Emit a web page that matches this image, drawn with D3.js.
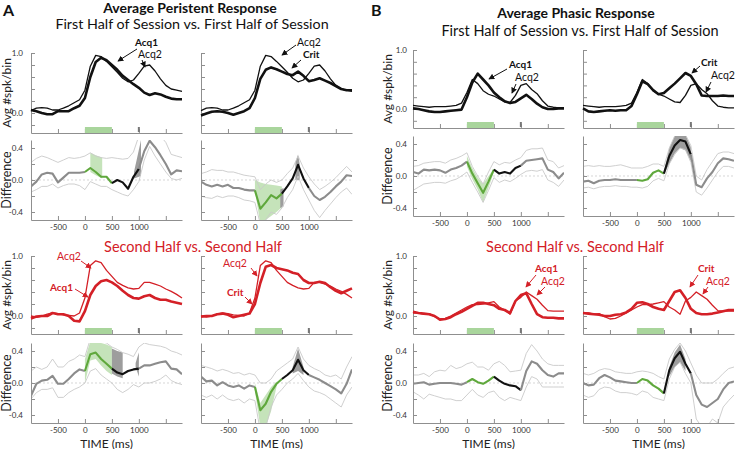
<!DOCTYPE html>
<html><head><meta charset="utf-8">
<script src="https://cdn.jsdelivr.net/npm/d3@7"></script>
<style>body{margin:0;background:#fff} svg{display:block}</style>
</head><body><svg id="c" width="738" height="449"></svg>
<script>
const FONT = 'Lato, "Liberation Sans", sans-serif';
// ---------- DATA ----------
const times = [-1000,-900,-800,-700,-600,-500,-400,-300,-200,-100,0,100,200,300,400,500,600,700,800,900,1000,1100,1200,1300,1400,1500,1600,1700,1800];
const xTicks = [-500,0,500,1000,1500];
const xTickLabels = ["-500","0","500","1000",""];
const topTicks = [-0.2,0,0.2,0.4,0.6,0.8,1.0];
const diffTicks = [-0.4,-0.2,0,0.2,0.4];
const stimWindow = [0,500];
const rewardTime = 1000;

// A: Average Persistent Response, first half
const perFirstAcq1 = [0.05,0.03,0.0,-0.02,-0.02,0.03,0.03,0.03,0.08,0.12,0.25,0.6,0.85,0.92,0.88,0.8,0.72,0.62,0.55,0.48,0.42,0.34,0.3,0.33,0.31,0.27,0.24,0.23,0.23];
const perFirstAcq2 = [0.04,0.08,0.09,0.08,0.05,0.05,0.08,0.12,0.17,0.22,0.38,0.78,0.96,0.94,0.86,0.77,0.68,0.58,0.52,0.55,0.66,0.78,0.8,0.7,0.57,0.46,0.4,0.38,0.36];
const perFirstCrit = [-0.04,-0.01,0.02,0.03,0.02,0.0,-0.03,0.0,0.03,0.08,0.25,0.57,0.72,0.76,0.73,0.69,0.65,0.63,0.69,0.62,0.53,0.55,0.58,0.54,0.5,0.45,0.4,0.38,0.38];
const perFirstDiffL = [-0.08,-0.02,0.07,0.09,0.08,-0.03,0.03,0.09,0.09,0.09,0.1,0.15,0.1,0.04,0.04,-0.04,0.0,-0.03,-0.11,0.04,0.14,0.36,0.49,0.41,0.31,0.2,0.07,0.12,0.11];
const perFirstDiffLHi = [0.22,0.27,0.3,0.28,0.25,0.22,0.25,0.28,0.27,0.28,0.3,0.34,0.3,0.28,0.27,0.28,0.27,0.26,0.27,0.35,0.55,0.65,0.65,0.6,0.55,0.47,0.32,0.3,0.28];
const perFirstDiffLLo = [-0.15,-0.12,-0.08,-0.08,-0.05,-0.1,-0.07,-0.05,-0.05,-0.07,-0.12,-0.02,-0.05,-0.08,-0.08,-0.12,-0.15,-0.18,-0.2,-0.12,-0.02,0.25,0.42,0.3,0.2,0.1,0.02,0.0,0.02];
const perFirstDiffR = [-0.02,-0.06,-0.08,-0.06,-0.08,-0.06,-0.1,-0.1,-0.12,-0.13,-0.13,-0.36,-0.28,-0.19,-0.23,-0.17,-0.08,0.02,0.19,0.02,-0.1,-0.2,-0.25,-0.21,-0.15,-0.08,-0.02,0.06,0.05];
const perFirstDiffRHi = [0.08,0.1,0.13,0.12,0.12,0.1,0.1,0.08,0.06,0.05,0.04,-0.12,-0.05,0.0,-0.03,0.0,0.08,0.15,0.3,0.15,0.04,-0.05,-0.12,-0.08,-0.03,0.03,0.1,0.17,0.1];
const perFirstDiffRLo = [-0.2,-0.22,-0.23,-0.2,-0.22,-0.2,-0.2,-0.22,-0.25,-0.26,-0.28,-0.55,-0.5,-0.4,-0.43,-0.35,-0.22,-0.12,0.05,-0.12,-0.25,-0.38,-0.47,-0.38,-0.3,-0.22,-0.15,-0.1,-0.18];
const perFirstShadeLGreen = [[[100,0.1,0.34],[200,0.06,0.31],[320,0.02,0.28]]];
const perFirstShadeLGray = [[[910,0.02,0.1],[1040,0.05,0.5]]];
const perFirstShadeRGreen = [[[0,-0.13,0.0],[100,-0.55,-0.03],[200,-0.5,-0.05],[300,-0.45,-0.06],[400,-0.4,-0.07],[500,-0.34,-0.08]]];
const perFirstShadeRGray = [[[470,-0.35,-0.12],[530,-0.33,-0.1]],[[750,0.0,0.22],[800,0.0,0.32],[830,0.0,0.2]]];

// A: second half
const perSecondAcq1 = [-0.04,-0.01,0.0,0.0,0.05,0.03,0.03,0.0,-0.08,-0.09,0.08,0.35,0.5,0.58,0.6,0.56,0.5,0.42,0.35,0.3,0.29,0.33,0.35,0.3,0.27,0.27,0.24,0.22,0.2];
const perSecondAcq2 = [0.0,-0.02,0.0,0.03,0.05,0.04,0.02,0.01,0.0,0.05,0.3,0.84,0.92,0.89,0.76,0.66,0.56,0.51,0.47,0.45,0.46,0.56,0.56,0.53,0.5,0.45,0.41,0.36,0.3];
const perSecondCrit = [-0.01,0.0,0.0,0.03,0.04,0.02,-0.02,0.0,0.02,0.04,0.2,0.55,0.82,0.85,0.8,0.78,0.76,0.72,0.7,0.6,0.55,0.55,0.57,0.55,0.48,0.42,0.38,0.42,0.46];
const perSecondDiffL = [-0.16,-0.01,0.03,0.04,0.09,-0.01,-0.01,0.05,0.12,0.17,0.15,0.36,0.38,0.3,0.24,0.18,0.13,0.11,0.15,0.17,0.18,0.22,0.22,0.24,0.26,0.27,0.18,0.17,0.11];
const perSecondDiffLHi = [0.15,0.2,0.17,0.2,0.3,0.2,0.2,0.27,0.3,0.35,0.33,0.55,0.55,0.52,0.5,0.45,0.42,0.38,0.36,0.33,0.45,0.5,0.48,0.47,0.46,0.44,0.4,0.38,0.35];
const perSecondDiffLLo = [-0.2,-0.12,-0.08,-0.08,-0.06,-0.18,-0.18,-0.12,-0.08,-0.05,0.0,0.15,0.18,0.1,0.05,0.0,-0.08,-0.12,-0.08,-0.02,-0.05,0.0,0.0,0.02,0.05,0.1,0.03,0.0,-0.02];
const perSecondDiffR = [0.08,0.02,0.03,-0.03,0.01,-0.03,-0.05,-0.03,-0.07,-0.03,-0.05,-0.34,-0.26,-0.11,-0.01,0.05,0.1,0.16,0.29,0.16,0.1,0.07,0.04,0.0,-0.04,-0.08,-0.13,-0.01,0.17];
const perSecondDiffRHi = [0.22,0.2,0.18,0.15,0.17,0.15,0.12,0.13,0.1,0.12,0.1,0.0,0.0,0.05,0.15,0.2,0.25,0.3,0.45,0.3,0.22,0.18,0.15,0.1,0.08,0.1,0.05,0.2,0.33];
const perSecondDiffRLo = [-0.15,-0.18,-0.15,-0.2,-0.15,-0.2,-0.22,-0.2,-0.25,-0.2,-0.22,-0.6,-0.55,-0.3,-0.15,-0.08,0.0,0.05,0.12,0.03,-0.05,-0.1,-0.12,-0.15,-0.2,-0.25,-0.3,-0.15,-0.05];
const perSecondShadeLGreen = [[[0,0.0,0.3],[100,0.28,0.52],[200,0.3,0.55],[300,0.22,0.5],[400,0.15,0.48],[500,0.1,0.45]]];
const perSecondShadeLGray = [[[500,0.12,0.43],[600,0.08,0.4],[700,0.06,0.38]],[[940,0.2,0.25],[1000,0.08,0.38]]];
const perSecondShadeRGreen = [[[0,-0.1,0.0],[100,-0.55,-0.25],[200,-0.55,-0.15],[300,-0.35,-0.05],[400,-0.05,0.02]]];
const perSecondShadeRGray = [[[700,0.12,0.2],[800,0.15,0.43],[900,0.1,0.2]]];

// B: Average Phasic Response, first half
const phaFirstAcq1 = [0.01,0.0,-0.02,-0.04,-0.05,-0.05,-0.04,-0.03,-0.02,-0.01,0.2,0.45,0.6,0.5,0.4,0.28,0.2,0.13,0.1,0.12,0.18,0.24,0.17,0.09,0.03,0.0,0.0,0.01,0.01];
const phaFirstAcq2 = [0.06,0.05,0.04,0.03,0.04,0.04,0.04,0.05,0.06,0.1,0.28,0.5,0.43,0.31,0.25,0.22,0.17,0.12,0.11,0.23,0.4,0.43,0.33,0.26,0.14,0.05,0.03,0.02,0.02];
const phaFirstCrit = [0.01,-0.04,-0.05,-0.04,-0.03,-0.02,-0.03,-0.02,-0.02,0.05,0.25,0.47,0.42,0.32,0.25,0.27,0.35,0.43,0.52,0.61,0.56,0.42,0.23,0.22,0.22,0.22,0.23,0.22,0.22];
const phaFirstDiffL = [0.05,0.03,0.08,0.07,0.08,0.07,0.04,0.08,0.1,0.13,0.18,0.03,-0.09,-0.21,-0.07,0.08,0.03,0.05,0.03,0.1,0.13,0.19,0.2,0.21,0.22,0.08,0.05,-0.03,0.04];
const phaFirstDiffLHi = [0.12,0.13,0.16,0.17,0.18,0.18,0.16,0.2,0.22,0.25,0.29,0.12,0.0,-0.1,0.05,0.18,0.14,0.17,0.16,0.2,0.23,0.32,0.34,0.34,0.35,0.2,0.18,0.1,0.13];
const phaFirstDiffLLo = [-0.18,-0.14,-0.1,-0.09,-0.08,-0.08,-0.09,-0.06,-0.04,0.0,0.05,-0.08,-0.2,-0.33,-0.18,-0.02,-0.08,-0.05,-0.07,-0.03,0.02,0.06,0.07,0.06,0.08,-0.05,-0.08,-0.13,-0.05];
const phaFirstDiffR = [-0.07,-0.06,-0.09,-0.06,-0.05,-0.05,-0.04,-0.05,-0.05,-0.05,-0.05,-0.06,-0.04,0.04,0.07,0.03,0.25,0.38,0.45,0.43,0.27,-0.11,-0.14,-0.03,0.05,0.16,0.22,0.21,0.19];
const phaFirstDiffRHi = [0.12,0.13,0.12,0.13,0.12,0.12,0.13,0.14,0.12,0.1,0.1,0.1,0.12,0.15,0.15,0.12,0.35,0.5,0.55,0.52,0.38,0.0,-0.05,0.08,0.18,0.28,0.3,0.3,0.28];
const phaFirstDiffRLo = [-0.15,-0.14,-0.16,-0.14,-0.13,-0.13,-0.12,-0.13,-0.13,-0.14,-0.14,-0.15,-0.13,-0.06,-0.03,-0.06,0.15,0.27,0.35,0.33,0.17,-0.2,-0.24,-0.15,-0.05,0.05,0.12,0.12,0.1];
const phaFirstShadeLGreen = [[[0,0.12,0.25],[100,-0.04,0.1],[200,-0.17,-0.02],[300,-0.33,-0.1],[400,-0.15,0.0],[500,0.05,0.09]]];
const phaFirstShadeRGray = [[[500,0.02,0.05],[600,0.15,0.35],[700,0.28,0.5],[800,0.35,0.55],[900,0.32,0.52],[1000,0.18,0.36]]];

// B: second half
const phaSecondAcq1 = [0.07,0.05,0.04,0.03,0.0,-0.06,-0.05,-0.02,0.03,0.07,0.12,0.17,0.22,0.22,0.2,0.18,0.12,0.1,0.05,0.25,0.35,0.38,0.2,0.03,-0.02,-0.03,-0.03,-0.04,-0.04];
const phaSecondAcq2 = [0.05,0.05,0.03,0.04,-0.01,-0.05,-0.04,0.0,0.05,0.1,0.15,0.19,0.19,0.2,0.22,0.24,0.15,0.1,0.03,0.25,0.31,0.4,0.34,0.28,0.18,0.09,0.08,0.08,0.08];
const phaSecondCrit = [0.05,0.04,0.03,0.02,0.0,0.0,0.02,0.03,0.06,0.12,0.22,0.23,0.2,0.15,0.12,0.1,0.25,0.4,0.43,0.3,0.12,0.05,0.03,0.03,0.04,0.06,0.08,0.1,0.1];
const phaSecondDiffL = [-0.01,0.0,0.01,-0.02,-0.01,0.0,0.0,0.0,-0.01,-0.02,0.01,0.05,0.01,-0.01,0.03,0.08,0.03,-0.01,-0.03,-0.04,-0.09,0.15,0.27,0.24,0.16,0.1,0.08,0.12,0.12];
const phaSecondDiffLHi = [0.1,0.1,0.12,0.08,0.14,0.16,0.15,0.22,0.18,0.2,0.24,0.26,0.2,0.2,0.16,0.24,0.27,0.22,0.14,0.15,0.16,0.37,0.48,0.4,0.3,0.24,0.22,0.22,0.22];
const phaSecondDiffLLo = [-0.11,-0.15,-0.2,-0.14,-0.16,-0.18,-0.2,-0.2,-0.22,-0.22,-0.15,-0.08,-0.15,-0.18,-0.12,-0.1,-0.18,-0.22,-0.18,-0.2,-0.22,-0.05,0.08,0.05,-0.05,-0.05,-0.05,-0.05,-0.05];
const phaSecondDiffR = [0.0,-0.03,-0.02,0.06,0.1,0.07,0.03,0.02,0.01,0.0,0.0,0.05,0.03,-0.03,-0.07,-0.13,0.16,0.31,0.39,0.24,0.12,-0.15,-0.27,-0.3,-0.25,-0.2,-0.08,0.0,0.02];
const phaSecondDiffRHi = [0.12,0.1,0.12,0.16,0.18,0.17,0.14,0.13,0.12,0.12,0.14,0.15,0.14,0.12,0.08,0.05,0.3,0.42,0.5,0.4,0.25,0.1,0.0,0.0,0.0,0.05,0.12,0.18,0.2];
const phaSecondDiffRLo = [-0.15,-0.18,-0.16,-0.08,-0.05,-0.06,-0.1,-0.12,-0.12,-0.13,-0.15,-0.1,-0.12,-0.18,-0.2,-0.22,0.05,0.2,0.26,0.12,0.0,-0.45,-0.55,-0.55,-0.45,-0.5,-0.3,-0.22,-0.15];
const phaSecondShadeRGray = [[[600,0.08,0.2],[700,0.2,0.38],[800,0.26,0.48],[900,0.15,0.3]]];

// ---------- STYLE / LAYOUT ----------
const RED = '#d42027', BLACK = '#111';
const GREEN_LINE = '#5fa83c', GREEN_FILL = '#bfe0b2', GRAY_FILL = '#9d9d9d';
const MEAN_GRAY = '#8c8c8c', CI_GRAY = '#c9c9c9', AXIS = '#8f8f8f';
const PW = 151;
const geoA1 = {topOne:53, topZero:113, topBottom:133, diffTop:140, diffBottom:220};
const geoB1 = {topOne:50, topZero:109, topBottom:128, diffTop:136, diffBottom:216};
const geoR2 = {topOne:256, topZero:316, topBottom:334, diffTop:343, diffBottom:423};

const svg = d3.select('#c');
const defs = svg.append('defs');
[[BLACK,'ahK'],[RED,'ahR']].forEach(([c,id])=>{
  defs.append('marker').attr('id',id).attr('viewBox','0 0 8 8').attr('refX',7).attr('refY',4)
    .attr('markerWidth',6).attr('markerHeight',6).attr('markerUnits','userSpaceOnUse').attr('orient','auto')
    .append('path').attr('d','M0,0L8,4L0,8z').attr('fill',c);
});

function styleAxis(g){
  g.attr('font-family',FONT).attr('font-size',8);
  g.select('.domain').attr('stroke',AXIS);
  g.selectAll('.tick line').attr('stroke',AXIS);
  g.selectAll('.tick text').attr('fill','#333');
}
const fmt = d => (d<0?'-':'') + Math.abs(d).toFixed(1);
let clipN = 0;

function drawPanel(p){
  const G = p.geo;
  const x = d3.scaleLinear().domain([times[0], times[times.length-1]]).range([p.x0, p.x0+PW]);
  // ----- response plot -----
  const yMin = (G.topBottom - G.topZero)/(G.topOne - G.topZero);
  const yT = d3.scaleLinear().domain([yMin,1]).range([G.topBottom, G.topOne]);
  const gt = svg.append('g');
  gt.append('g').attr('transform',`translate(${p.x0},0)`)
    .call(d3.axisLeft(yT).tickValues(topTicks).tickSizeInner(-4).tickSizeOuter(0).tickPadding(p.pad)
      .tickFormat(d => (p.labels && (d===0||d===1)) ? fmt(d) : ''))
    .call(styleAxis);
  gt.append('g').attr('transform',`translate(0,${G.topBottom})`)
    .call(d3.axisBottom(x).tickValues(xTicks).tickSizeInner(-4).tickSizeOuter(0).tickFormat(''))
    .call(styleAxis);
  gt.append('rect').attr('x',x(stimWindow[0])).attr('width',x(stimWindow[1])-x(stimWindow[0]))
    .attr('y',G.topBottom-6).attr('height',6).attr('fill','#a9d59c');
  gt.append('rect').attr('x',x(rewardTime)-1).attr('width',2).attr('y',G.topBottom-6).attr('height',5).attr('fill','#777');
  const line = d3.line().x((d,i)=>x(times[i])).y(d=>yT(d));
  gt.append('path').datum(p.thin).attr('d',line).attr('fill','none').attr('stroke',p.color).attr('stroke-width',1.3).attr('stroke-linejoin','round');
  gt.append('path').datum(p.thick).attr('d',line).attr('fill','none').attr('stroke',p.color).attr('stroke-width',2.6).attr('stroke-linejoin','round');
  // annotations
  const mk = p.color===RED ? 'url(#ahR)' : 'url(#ahK)';
  p.anno.forEach(a=>{
    gt.append('text').attr('x',a.x).attr('y',a.y).text(a.text).attr('fill',p.color)
      .attr('font-family',FONT).attr('font-size',a.bold?10:10.5).attr('font-weight',a.bold?700:400);
    gt.append('line').attr('x1',a.from[0]).attr('y1',a.from[1]).attr('x2',a.to[0]).attr('y2',a.to[1])
      .attr('stroke',p.color).attr('stroke-width',1).attr('marker-end',mk);
  });
  // ----- difference plot -----
  const yD = d3.scaleLinear().domain([-0.5,0.5]).range([G.diffBottom, G.diffTop]);
  const cid = 'clip'+(clipN++);
  defs.append('clipPath').attr('id',cid).append('rect').attr('x',p.x0).attr('y',G.diffTop).attr('width',PW).attr('height',G.diffBottom-G.diffTop);
  const gd = svg.append('g');
  const inner = gd.append('g').attr('clip-path',`url(#${cid})`);
  const area = d3.area().x(d=>x(d[0])).y0(d=>yD(d[1])).y1(d=>yD(d[2]));
  (p.green||[]).forEach(r=> inner.append('path').attr('d',area(r)).attr('fill',GREEN_FILL).attr('opacity',0.9));
  (p.gray||[]).forEach(r=> inner.append('path').attr('d',area(r)).attr('fill',GRAY_FILL));
  const dl = d3.line().x((d,i)=>x(times[i])).y(d=>yD(d));
  [p.hi,p.lo].forEach(arr=> inner.append('path').datum(arr).attr('d',dl).attr('fill','none').attr('stroke',CI_GRAY).attr('stroke-width',0.9));
  inner.append('line').attr('x1',p.x0).attr('x2',p.x0+PW).attr('y1',yD(0)).attr('y2',yD(0))
    .attr('stroke','#c4c4c4').attr('stroke-width',0.7).attr('stroke-dasharray','2,2');
  const segs = [[-1000,0,MEAN_GRAY],[0,500,GREEN_LINE],[500,1000,BLACK],[1000,1800,MEAN_GRAY]];
  segs.forEach(([a,b,c])=>{
    const pts = times.map((t,i)=>[t,p.mean[i]]).filter(d=>d[0]>=a && d[0]<=b);
    inner.append('path').datum(pts).attr('d',d3.line().x(d=>x(d[0])).y(d=>yD(d[1])))
      .attr('fill','none').attr('stroke',c).attr('stroke-width',2.1).attr('stroke-linejoin','round');
  });
  gd.append('g').attr('transform',`translate(${p.x0},0)`)
    .call(d3.axisLeft(yD).tickValues(diffTicks).tickSizeInner(-4).tickSizeOuter(0).tickPadding(p.pad)
      .tickFormat(d => (p.labels && (d===0||Math.abs(d)===0.4)) ? fmt(d) : ''))
    .call(styleAxis);
  gd.append('g').attr('transform',`translate(0,${G.diffBottom})`)
    .call(d3.axisBottom(x).tickValues(xTicks).tickSizeInner(-4).tickSizeOuter(0).tickPadding(4.5)
      .tickFormat((d,i)=>xTickLabels[i]))
    .call(styleAxis);
  if (p.time){
    gd.append('text').attr('x',x(400)).attr('y',447.5).attr('text-anchor','middle').text('TIME (ms)')
      .attr('font-family',FONT).attr('font-size',12).attr('fill','#222');
  }
  if (p.labels){
    const lx = p.x0 - p.lab;
    gt.append('text').attr('transform',`translate(${lx},${(G.topOne+G.topBottom)/2}) rotate(-90)`)
      .attr('text-anchor','middle').text('Avg #spk/bin').attr('font-family',FONT).attr('font-size',12).attr('fill','#222');
    gd.append('text').attr('transform',`translate(${lx},${(G.diffTop+G.diffBottom)/2}) rotate(-90)`)
      .attr('text-anchor','middle').text('Difference').attr('font-family',FONT).attr('font-size',12.5).attr('fill','#222');
  }
}

const panels = [
  {x0:31, geo:geoA1, pad:8, lab:20, labels:true, color:BLACK, thick:perFirstAcq1, thin:perFirstAcq2,
   mean:perFirstDiffL, hi:perFirstDiffLHi, lo:perFirstDiffLLo, green:perFirstShadeLGreen, gray:perFirstShadeLGray,
   anno:[{text:'Acq1',bold:true,x:135,y:46,from:[137,49],to:[118,61]},{text:'Acq2',bold:false,x:138,y:58,from:[142,60],to:[145,67]}]},
  {x0:201, geo:geoA1, pad:8, labels:false, color:BLACK, thick:perFirstCrit, thin:perFirstAcq2,
   mean:perFirstDiffR, hi:perFirstDiffRHi, lo:perFirstDiffRLo, green:perFirstShadeRGreen, gray:perFirstShadeRGray,
   anno:[{text:'Acq2',bold:false,x:297,y:46,from:[296,45],to:[282,55]},{text:'Crit',bold:true,x:303,y:58,from:[301,60],to:[292,68]}]},
  {x0:413, geo:geoB1, pad:6, lab:21, labels:true, color:BLACK, thick:phaFirstAcq1, thin:phaFirstAcq2,
   mean:phaFirstDiffL, hi:phaFirstDiffLHi, lo:phaFirstDiffLLo, green:phaFirstShadeLGreen, gray:[],
   anno:[{text:'Acq1',bold:true,x:509,y:68,from:[507,69],to:[489,79]},{text:'Acq2',bold:false,x:515,y:81,from:[516,84],to:[512,93]}]},
  {x0:583, geo:geoB1, pad:6, labels:false, color:BLACK, thick:phaFirstCrit, thin:phaFirstAcq2,
   mean:phaFirstDiffR, hi:phaFirstDiffRHi, lo:phaFirstDiffRLo, green:[], gray:phaFirstShadeRGray,
   anno:[{text:'Crit',bold:true,x:701,y:66,from:[700,66],to:[692,73]},{text:'Acq2',bold:false,x:711,y:79,from:[711,82],to:[706,92]}]},
  {x0:31, geo:geoR2, pad:8, lab:20, labels:true, time:true, color:RED, thick:perSecondAcq1, thin:perSecondAcq2,
   mean:perSecondDiffL, hi:perSecondDiffLHi, lo:perSecondDiffLLo, green:perSecondShadeLGreen, gray:perSecondShadeLGray,
   anno:[{text:'Acq2',bold:false,x:57,y:260,from:[81,261],to:[91,268]},{text:'Acq1',bold:true,x:50,y:291,from:[75,289],to:[88,297]}]},
  {x0:201, geo:geoR2, pad:8, labels:false, time:true, color:RED, thick:perSecondCrit, thin:perSecondAcq2,
   mean:perSecondDiffR, hi:perSecondDiffRHi, lo:perSecondDiffRLo, green:perSecondShadeRGreen, gray:perSecondShadeRGray,
   anno:[{text:'Acq2',bold:false,x:223,y:267,from:[251,268],to:[257,276]},{text:'Crit',bold:true,x:227,y:296,from:[245,297],to:[252,304]}]},
  {x0:413, geo:geoR2, pad:6, lab:21, labels:true, time:true, color:RED, thick:phaSecondAcq1, thin:phaSecondAcq2,
   mean:phaSecondDiffL, hi:phaSecondDiffLHi, lo:phaSecondDiffLLo, green:[], gray:[],
   anno:[{text:'Acq1',bold:true,x:535,y:272,from:[536,275],to:[526,287]},{text:'Acq2',bold:false,x:541,y:285,from:[545,287],to:[537,295]}]},
  {x0:583, geo:geoR2, pad:6, labels:false, time:true, color:RED, thick:phaSecondCrit, thin:phaSecondAcq2,
   mean:phaSecondDiffR, hi:phaSecondDiffRHi, lo:phaSecondDiffRLo, green:[], gray:phaSecondShadeRGray,
   anno:[{text:'Crit',bold:true,x:698,y:272,from:[698,275],to:[690,287]},{text:'Acq2',bold:false,x:706,y:285,from:[708,287],to:[703,294]}]}
];
panels.forEach(drawPanel);

// ---------- TITLES ----------
function txt(s,x,y,size,weight,color,anchor){
  svg.append('text').attr('x',x).attr('y',y).text(s).attr('font-family',FONT).attr('font-size',size)
    .attr('font-weight',weight).attr('fill',color).attr('text-anchor',anchor||'middle');
}
txt('A',3,16,16,700,'#111','start');
txt('B',371,16,16,700,'#111','start');
txt('Average Peristent Response',190,13,14,700,'#111');
txt('First Half of Session vs. First Half of Session',192,29,14.3,400,'#111');
txt('Average Phasic Response',576,17.5,14,700,'#111');
txt('First Half of Session vs. First Half of Session',580,36,14.5,400,'#111');
txt('Second Half vs. Second Half',193,252,14.5,400,RED);
txt('Second Half vs. Second Half',575,252,14.5,400,RED);
</script></body></html>
